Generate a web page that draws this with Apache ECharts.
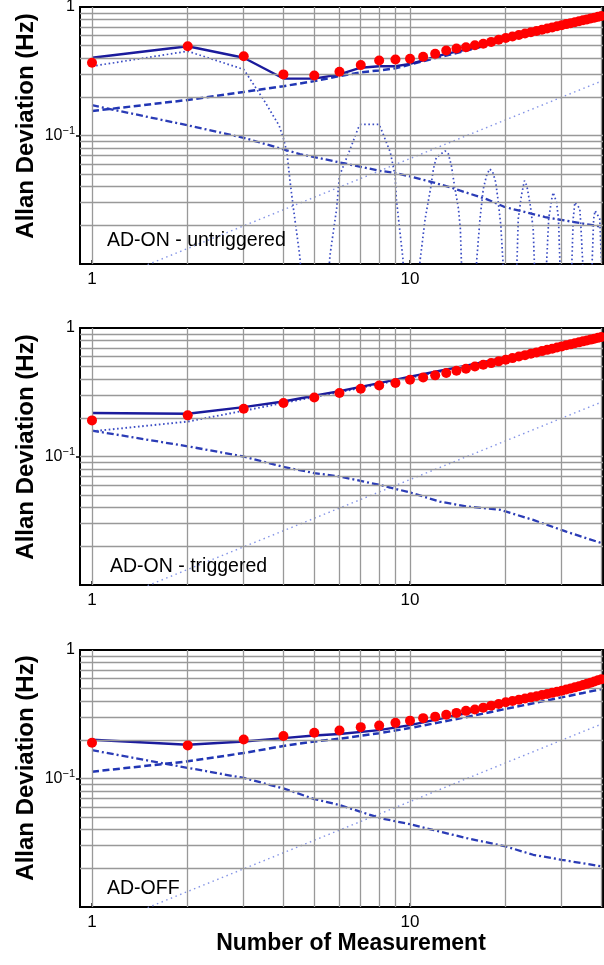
<!DOCTYPE html>
<html>
<head>
<meta charset="utf-8">
<script src="https://cdn.jsdelivr.net/npm/echarts@6/dist/echarts.min.js"></script>
<style>html,body{margin:0;padding:0;background:#fff}#chart{width:604px;height:965px}</style>
</head>
<body>
<div id="chart"></div>
<script>
// ---------------- data ----------------
const measurementN = [1,2,3,4,5,6,7,8,9,10,11,12,13,14,15,16,17,18,19,20,21,22,23,24,25,26,27,28,29,30,31,32,33,34,35,36,37,38,39,40];

// Panel 1: AD-ON - untriggered
const dotsUntrig = [0.368,0.495,0.414,0.299,0.293,0.313,0.353,0.384,0.390,0.395,0.410,0.432,0.458,0.475,0.486,0.504,0.517,0.535,0.556,0.573,0.589,0.605,0.621,0.636,0.651,0.665,0.680,0.694,0.708,0.722,0.736,0.749,0.762,0.775,0.789,0.801,0.814,0.826,0.838,0.851];
const fitUntrig = [[1,0.403],[2,0.495],[3,0.403],[4,0.278],[5,0.277],[6,0.299],[7,0.337],[8,0.346],[9,0.346],[10,0.361],[11,0.384],[12,0.41],[13,0.432],[14,0.45],[16,0.481],[20,0.565],[25,0.645],[30,0.716],[35,0.79],[40,0.858]];
const walkUntrig = [[1,0.155],[2,0.189],[3,0.218],[4,0.242],[5,0.265],[6,0.29],[7,0.31],[8,0.321],[9,0.333],[10,0.357],[12,0.40],[16,0.475],[20,0.56],[30,0.71],[40,0.85]];
const whiteUntrig = [[1,0.172],[2,0.12],[3,0.096],[4,0.078],[4.5,0.0717],[6,0.0618],[8,0.0532],[9,0.051],[10,0.048],[11.8,0.0432],[13.4,0.0395],[14.4,0.0372],[17.4,0.032],[19.7,0.028],[21,0.0268],[26.6,0.0232],[29.3,0.0222],[32.5,0.0213],[40,0.0195]];
const oscUntrig = [[1,0.346],[2,0.453],[3,0.327],[3.46,0.191],[3.88,0.119],[4.0,0.095],[4.1,0.074],[4.2,0.043],[4.3,0.027],[4.4,0.0177],[4.5,0.0116],[5.05,0.0003],[5.6,0.0116],[5.88,0.027],[6,0.0486],[6.48,0.078],[6.88,0.115],[7,0.122],[8,0.122],[8.24,0.102],[8.67,0.074],[8.98,0.0486],[9.06,0.032],[9.3,0.0177],[9.5,0.011],[10.1,0.0003],[10.75,0.0105],[11.16,0.0225],[11.6,0.0384],[11.85,0.055],[12.1,0.0674],[12.9,0.076],[13.2,0.072],[13.5,0.058],[13.8,0.0407],[14.2,0.027],[14.4,0.0188],[14.5,0.011],[15.4,0.0003],[16.2,0.0105],[16.6,0.0225],[17.0,0.0384],[17.4,0.0486],[17.8,0.055],[18.2,0.052],[18.6,0.0433],[18.9,0.032],[19.3,0.02],[19.6,0.0105],[20.6,0.0003],[21.7,0.0105],[21.9,0.0225],[22.4,0.034],[22.9,0.0445],[23.3,0.0407],[23.9,0.0285],[24.4,0.0188],[24.6,0.0105],[25.7,0.0003],[26.9,0.0105],[27.3,0.0225],[27.9,0.032],[28.2,0.036],[28.9,0.0302],[29.3,0.0225],[29.6,0.0105],[31,0.0003],[32.3,0.0105],[32.6,0.0225],[33,0.0302],[34.2,0.027],[34.5,0.0188],[34.9,0.0105],[36,0.0003],[37.4,0.0105],[37.8,0.0225],[38.2,0.026],[39.5,0.0225],[40,0.0105]];

// Panel 2: AD-ON - triggered
const dotsTrig = [0.191,0.209,0.235,0.261,0.288,0.312,0.337,0.357,0.373,0.396,0.412,0.428,0.446,0.465,0.482,0.502,0.518,0.533,0.550,0.567,0.583,0.600,0.615,0.631,0.646,0.661,0.676,0.690,0.705,0.719,0.733,0.746,0.760,0.773,0.787,0.800,0.812,0.825,0.838,0.851];
const fitTrig = [[1,0.218],[2,0.215],[3,0.242],[4,0.268],[5,0.297],[6,0.323],[8,0.372],[10,0.418],[12,0.457],[15,0.51],[20,0.59],[25,0.66],[30,0.722],[35,0.78],[40,0.836]];
const walkTrig = [[1,0.157],[2,0.187],[3,0.227],[4,0.261],[5,0.29],[6,0.316],[8,0.366],[10,0.41],[15,0.5],[20,0.58],[30,0.71],[40,0.82]];
const whiteTrig = [[1,0.159],[2,0.12],[3,0.1],[4,0.083],[5,0.0743],[6,0.0699],[8,0.0602],[10,0.0525],[12.4,0.0446],[15.1,0.0408],[19.2,0.0385],[24.4,0.0321],[31,0.026],[40,0.0212]];

// Panel 3: AD-OFF
const dotsOff = [0.190,0.181,0.201,0.214,0.227,0.236,0.251,0.258,0.271,0.282,0.295,0.303,0.313,0.324,0.336,0.344,0.356,0.369,0.380,0.392,0.401,0.410,0.419,0.428,0.437,0.446,0.455,0.464,0.473,0.482,0.492,0.502,0.512,0.523,0.534,0.545,0.557,0.569,0.581,0.593];
const fitOff = [[1,0.2],[2,0.183],[3,0.194],[4,0.206],[5,0.216],[6,0.222],[8,0.238],[10,0.26],[15,0.322],[20,0.385],[25,0.443],[30,0.497],[35,0.55],[40,0.601]];
const walkOff = [[1,0.113],[2,0.136],[3,0.158],[4,0.179],[5,0.194],[6,0.204],[8,0.225],[10,0.247],[15,0.30],[20,0.348],[25,0.39],[30,0.428],[35,0.463],[40,0.497]];
const whiteOff = [[1,0.166],[2,0.121],[3,0.101],[4,0.0837],[5,0.0692],[6,0.0622],[8.1,0.049],[10,0.0441],[11.8,0.0398],[15.1,0.0343],[20,0.0296],[24.4,0.0255],[30,0.0233],[40,0.0207]];

// drift line (same in all panels)
const driftLine = [[1,0.0066],[40,0.265]];

// grid lines and ticks
const gridX = [1,2,3,4,5,6,7,8,9,10,20,30,40];
const gridY = [0.02,0.03,0.04,0.05,0.06,0.07,0.08,0.09,0.1,0.2,0.3,0.4,0.5,0.6,0.7,0.8,0.9];
const xRange = [0.9168, 40.45];
const yRange = [0.01, 1];
const panelNames = ['AD-ON - untriggered','AD-ON - triggered','AD-OFF'];
const yTitle = 'Allan Deviation (Hz)';
const xTitle = 'Number of Measurement';

// ---------------- chart ----------------
const FONT = '"Liberation Sans", Arial, Helvetica, sans-serif';
const chart = echarts.init(document.getElementById('chart'), null, {renderer:'canvas'});

const gridTops = [7, 328, 650];
const grids = gridTops.map(t => ({left:80, top:t, width:523, height:257, show:true, borderColor:'#000', borderWidth:2, backgroundColor:'transparent', outerBoundsMode:'none', containLabel:false}));

const xAxes = gridTops.map((t,i) => ({
  type:'log', logBase:10, gridIndex:i, min:xRange[0], max:xRange[1],
  axisLine:{show:false}, splitLine:{show:false},
  axisTick:{show:true, inside:true, length:4, lineStyle:{color:'#000', width:1.5}, customValues:[1,10]},
  axisLabel:{show:true, margin:7, color:'#000', fontFamily:FONT, fontSize:17,
    formatter:v => (Math.abs(v-1)<1e-6 ? '1' : (Math.abs(v-10)<1e-6 ? '10' : ''))}
}));
const yAxes = gridTops.map((t,i) => ({
  type:'log', logBase:10, gridIndex:i, min:yRange[0], max:yRange[1],
  axisLine:{show:false}, splitLine:{show:false},
  axisTick:{show:true, inside:false, length:4, lineStyle:{color:'#000', width:1.5}, customValues:[0.1]},
  axisLabel:{show:true, margin:5, color:'#000', fontFamily:FONT,
    formatter:v => (Math.abs(v-1)<1e-6 ? '{n|1}' : (Math.abs(v-0.1)<1e-6 ? '{n|10}{s|\u22121}' : '')),
    rich:{ n:{fontSize:16, fontFamily:FONT, color:'#000', lineHeight:20}, s:{fontSize:11, fontFamily:FONT, color:'#000', verticalAlign:'top', lineHeight:12} }
  }
}));

const series = [];
const panels = [
  {dots:dotsUntrig, fit:fitUntrig, walk:walkUntrig, white:whiteUntrig, osc:oscUntrig, walkStyle:'dashed'},
  {dots:dotsTrig, fit:fitTrig, walk:walkTrig, white:whiteTrig, osc:null, walkStyle:'dotted'},
  {dots:dotsOff, fit:fitOff, walk:walkOff, white:whiteOff, osc:null, walkStyle:'dashed'}
];
const lineBase = {type:'line', showSymbol:false, symbol:'none', silent:true, animation:false, clip:true, smooth:false};

panels.forEach((p,i) => {
  // grid lines
  series.push(Object.assign({}, lineBase, {
    xAxisIndex:i, yAxisIndex:i, z:1, data:[[1,0.5]], lineStyle:{opacity:0},
    markLine:{silent:true, symbol:'none', animation:false, label:{show:false},
      lineStyle:{color:'#999999', width:1.3, type:'solid'},
      emphasis:{disabled:true},
      data: gridX.map(v => ({xAxis:v})).concat(gridY.map(v => ({yAxis:v})))}
  }));
  // drift (light dotted)
  series.push(Object.assign({}, lineBase, {xAxisIndex:i, yAxisIndex:i, z:2, data:driftLine,
    lineStyle:{color:'#8595e6', width:1.4, type:[1.5,3.5]}}));
  // white noise (dash-dot)
  series.push(Object.assign({}, lineBase, {xAxisIndex:i, yAxisIndex:i, z:3, data:p.white,
    lineStyle:{color:'#2b3cb6', width:2.3, type:[7,3,2,3]}}));
  // oscillating dotted
  if (p.osc) series.push(Object.assign({}, lineBase, {xAxisIndex:i, yAxisIndex:i, z:3, data:p.osc,
    lineStyle:{color:'#3a4cc4', width:1.7, type:[1.6,2.6]}}));
  // walk component
  series.push(Object.assign({}, lineBase, {xAxisIndex:i, yAxisIndex:i, z:3, data:p.walk,
    lineStyle: p.walkStyle === 'dashed' ? {color:'#2136b4', width:2.5, type:[7,3.5]} : {color:'#3a4cc4', width:1.9, type:[1.6,2.6]}}));
  // total fit
  series.push(Object.assign({}, lineBase, {xAxisIndex:i, yAxisIndex:i, z:4, data:p.fit,
    lineStyle:{color:'#1b1b9c', width:2.4, type:'solid'}}));
  // measured points
  series.push({type:'scatter', xAxisIndex:i, yAxisIndex:i, z:5, silent:true, animation:false,
    symbol:'circle', symbolSize:10, itemStyle:{color:'#ff0000', opacity:1},
    data: measurementN.map((n,k) => [n, p.dots[k]])});
});

const graphics = [];
const titleCenters = [126, 447, 768];
titleCenters.forEach(cy => {
  graphics.push({type:'text', x:26, y:cy, rotation:Math.PI/2, silent:true,
    style:{text:yTitle, font:'bold 24px ' + FONT, fill:'#000', align:'center', verticalAlign:'middle', textAlign:'center', textVerticalAlign:'middle'}});
});
const annPos = [[107,241],[110,567],[107,889]];
panelNames.forEach((t,i) => {
  graphics.push({type:'text', x:annPos[i][0], y:annPos[i][1], silent:true, z:10,
    style:{text:t, font:'19.5px ' + FONT, fill:'#000', align:'left', verticalAlign:'middle', textAlign:'left', textVerticalAlign:'middle'}});
});
graphics.push({type:'text', x:351, y:944, silent:true,
  style:{text:xTitle, font:'bold 23px ' + FONT, fill:'#000', align:'center', verticalAlign:'middle', textAlign:'center', textVerticalAlign:'middle'}});

chart.setOption({
  animation:false,
  backgroundColor:'#fff',
  grid:grids, xAxis:xAxes, yAxis:yAxes, series:series, graphic:graphics
});
</script>
</body>
</html>
